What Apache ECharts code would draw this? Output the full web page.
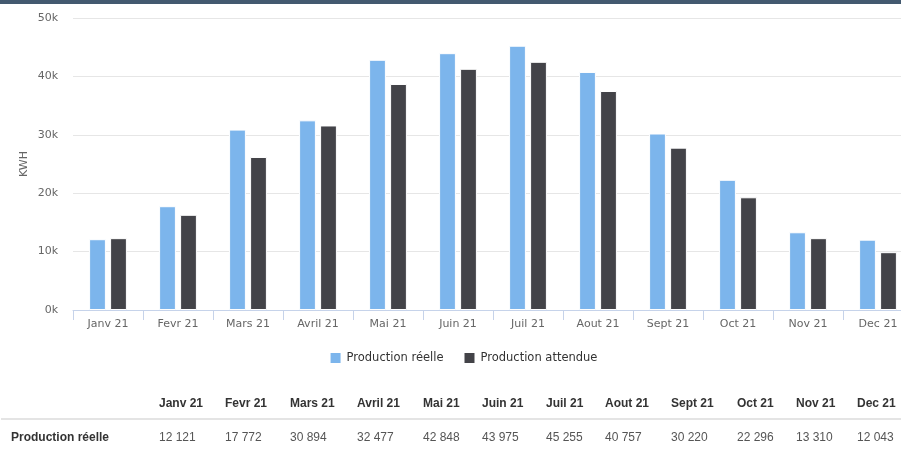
<!DOCTYPE html>
<html>
<head>
<meta charset="utf-8">
<script src="https://cdn.jsdelivr.net/npm/echarts@6/dist/echarts.min.js"></script>
<style>
  html, body { margin: 0; padding: 0; background: #fff; }
  #wrap { position: relative; width: 901px; height: 460px; overflow: hidden; }
  #topbar { position: absolute; left: 0; top: 0; width: 901px; height: 4px; background: #43596f; z-index: 2; }
  #chart { position: absolute; left: 0; top: 0; width: 926px; height: 460px; }
  .cell { position: absolute; font-family: "Liberation Sans", Arial, sans-serif; font-size: 12px; white-space: nowrap; line-height: 14px; }
  .hd { font-weight: bold; color: #333; }
  .val { color: #555; }
  #sep { position: absolute; left: 1px; top: 418px; width: 900px; height: 2px; background: #e4e4e4; }
</style>
</head>
<body>
<div id="wrap">
  <div id="chart"></div>
  <div id="topbar"></div>
  <div id="table"></div>
</div>
<script>
// ---- data ----
const categories = ['Janv 21','Fevr 21','Mars 21','Avril 21','Mai 21','Juin 21','Juil 21','Aout 21','Sept 21','Oct 21','Nov 21','Dec 21'];
const productionReelle = [12121, 17772, 30894, 32477, 42848, 43975, 45255, 40757, 30220, 22296, 13310, 12043];
const productionAttendue = [12300, 16300, 26200, 31600, 38700, 41300, 42500, 37500, 27800, 19300, 12300, 9900];
const seriesNames = ['Production réelle', 'Production attendue'];
const yAxisName = 'KWH';
const yTicks = { min: 0, max: 50000, interval: 10000 };

// ---- layout (not data) ----
const tableColLeft = [159, 225, 290, 357, 423, 482, 546, 605, 671, 737, 796, 857];

const chart = echarts.init(document.getElementById('chart'), null, { renderer: 'canvas' });
const labelFont = { color: '#666666', fontSize: 11, fontFamily: '"DejaVu Sans", sans-serif' };

chart.setOption({
  animation: false,
  grid: { left: 73, right: 13, top: 18, bottom: 150, containLabel: false },
  legend: {
    data: seriesNames,
    left: 'center',
    top: 346,
    itemWidth: 12,
    itemHeight: 12,
    itemGap: 19,
    icon: 'rect',
    textStyle: { color: '#333333', fontSize: 11.5, fontFamily: '"DejaVu Sans", sans-serif', padding: [0, 0, 0, 0] }
  },
  xAxis: {
    type: 'category',
    data: categories,
    axisLine: { show: true, lineStyle: { color: '#c6d3ea', width: 1 } },
    axisTick: { show: true, length: 10, lineStyle: { color: '#c6d3ea' } },
    axisLabel: Object.assign({ margin: 9 }, labelFont),
    splitLine: { show: false }
  },
  yAxis: {
    type: 'value',
    min: yTicks.min,
    max: yTicks.max,
    interval: yTicks.interval,
    name: yAxisName,
    nameLocation: 'middle',
    nameGap: 43,
    nameRotate: 90,
    nameMoveOverlap: false,
    nameTextStyle: { color: '#666666', fontSize: 11, fontFamily: '"DejaVu Sans", sans-serif' },
    axisLine: { show: false },
    axisTick: { show: false },
    axisLabel: Object.assign({ margin: 15, formatter: v => (v / 1000) + 'k' }, labelFont),
    splitLine: { lineStyle: { color: '#e6e6e6', width: 1 } }
  },
  series: [
    {
      name: seriesNames[0], type: 'bar', data: productionReelle,
      barWidth: 16.8, barGap: '25%',
      itemStyle: { color: '#7cb5ec', borderColor: '#ffffff', borderWidth: 1 }
    },
    {
      name: seriesNames[1], type: 'bar', data: productionAttendue,
      barWidth: 16.8, barGap: '25%',
      itemStyle: { color: '#434348', borderColor: '#ffffff', borderWidth: 1 }
    }
  ]
});

// ---- table ----
const fmt = n => String(n).replace(/\B(?=(\d{3})+(?!\d))/g, ' ');
const tbl = document.getElementById('table');
let html = '<div id="sep"></div>';
categories.forEach((c, i) => {
  html += `<div class="cell hd" style="left:${tableColLeft[i]}px;top:396px">${c}</div>`;
  html += `<div class="cell val" style="left:${tableColLeft[i]}px;top:430px">${fmt(productionReelle[i])}</div>`;
});
html += `<div class="cell hd" style="left:11px;top:430px">${seriesNames[0]}</div>`;
tbl.innerHTML = html;
</script>
</body>
</html>
